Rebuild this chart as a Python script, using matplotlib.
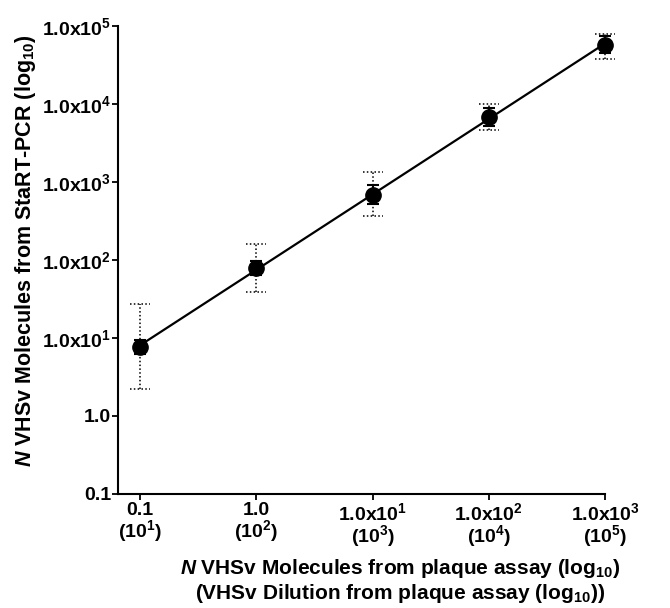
import numpy as np
import matplotlib
matplotlib.use("Agg")
import matplotlib.pyplot as plt

plt.rcParams['font.family'] = ['Liberation Sans', 'DejaVu Sans']
plt.rcParams['font.weight'] = 'bold'
plt.rcParams['mathtext.fontset'] = 'custom'
plt.rcParams['mathtext.rm'] = 'Liberation Sans:bold'
plt.rcParams['mathtext.bf'] = 'Liberation Sans:bold'
plt.rcParams['mathtext.it'] = 'Liberation Sans:italic:bold'
plt.rcParams['mathtext.bfit'] = 'Liberation Sans:italic:bold'

# data
plaque = [0.1, 1.0, 10.0, 100.0, 1000.0]
start_pcr = [7.7, 79.0, 680.0, 6800.0, 57000.0]
sd_low = [6.3, 65.0, 520.0, 5300.0, 45000.0]
sd_high = [9.3, 98.0, 910.0, 8900.0, 75000.0]
range_low = [2.2, 39.0, 366.0, 4600.0, 38000.0]
range_high = [27.0, 160.0, 1340.0, 10000.0, 79000.0]

xtick_vals = [0.1, 1.0, 10.0, 100.0, 1000.0]
xtick_labels = ['0.1\n(10$^{1}$)', '1.0\n(10$^{2}$)', '1.0x10$^{1}$\n(10$^{3}$)',
                '1.0x10$^{2}$\n(10$^{4}$)', '1.0x10$^{3}$\n(10$^{5}$)']
ytick_vals = [0.1, 1.0, 10.0, 100.0, 1000.0, 10000.0, 100000.0]
ytick_labels = ['0.1', '1.0', '1.0x10$^{1}$', '1.0x10$^{2}$', '1.0x10$^{3}$',
                '1.0x10$^{4}$', '1.0x10$^{5}$']

x = np.array(plaque)
y = np.array(start_pcr)

fig = plt.figure(figsize=(6.7, 6.08), dpi=100)
ax = fig.add_axes([118/670, 1 - 494/608, 487/670, 468/608])
ax.set_xscale('log')
ax.set_yscale('log')
ax.set_xlim(10**(-1 - 22/116), 1000)
ax.set_ylim(0.1, 100000)

# regression line in log space
k, b = np.polyfit(np.log10(x), np.log10(y), 1)
xl = np.array([x.min(), x.max()])
ax.plot(xl, 10**(k*np.log10(xl) + b), color='black', lw=1.6, zorder=2)

# dotted range bars with dotted caps
cap = 10**(10/116)
for xi, lo, hi in zip(x, range_low, range_high):
    ax.plot([xi, xi], [lo, hi], color='black', lw=1.1, ls=(0, (1, 1.5)), zorder=1, clip_on=False)
    for v in (lo, hi):
        ax.plot([xi/cap, xi*cap], [v, v], color='black', lw=1.1, ls=(0, (1, 1.5)), zorder=1, clip_on=False)

# solid SD bars
ax.errorbar(x, y, yerr=[y - np.array(sd_low), np.array(sd_high) - y], fmt='o',
            color='black', ms=11, capsize=4, elinewidth=1.5, capthick=1.5,
            zorder=3, clip_on=False)

ax.set_xticks(xtick_vals)
ax.set_xticklabels(xtick_labels)
ax.set_yticks(ytick_vals)
ax.set_yticklabels(ytick_labels)
ax.minorticks_off()
ax.tick_params(axis='both', labelsize=14, length=4, width=1.3, direction='out')
ax.tick_params(axis='x', pad=2)
ax.tick_params(axis='y', pad=1)
for lab in ax.get_xticklabels():
    lab.set_linespacing(0.95)

for s in ['top', 'right']:
    ax.spines[s].set_visible(False)
for s in ['left', 'bottom']:
    ax.spines[s].set_linewidth(1.5)

ax.set_ylabel(r'$\mathbfit{N}$ VHSv Molecules from StaRT-PCR (log$_{10}$)',
              fontsize=15.5, fontweight='bold')
ax.yaxis.set_label_coords(-0.165, 0.52)
ax.set_xlabel('$\\mathbfit{N}$ VHSv Molecules from plaque assay (log$_{10}$)\n'
              '(VHSv Dilution from plaque assay (log$_{10}$))',
              fontsize=15, fontweight='bold', linespacing=1.1)
ax.xaxis.set_label_coords(0.58, -0.135)

fig.savefig('out.png', dpi=100)
